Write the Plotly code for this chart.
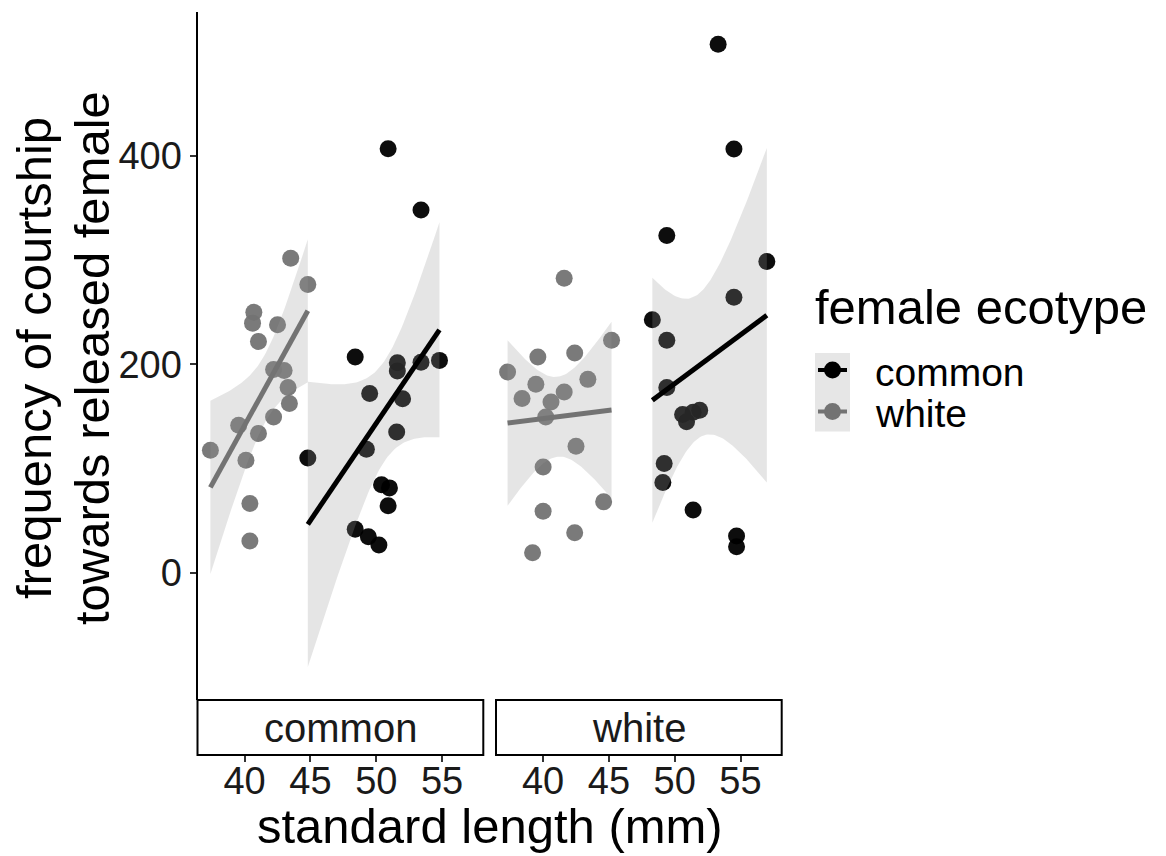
import numpy as np
import plotly.graph_objects as go

# ---------------- data ----------------
# panel "common" (male ecotype facet), female ecotype white (gray)
c_white_x = [43.5, 44.8, 40.7, 40.6, 42.5, 41.05, 42.2, 43.0, 43.3, 43.4, 42.2, 39.55, 41.05, 37.4, 40.1, 40.4, 40.4]
c_white_y = [301.7, 276.6, 250, 239.5, 238, 222, 195, 194, 177.7, 162.4, 149.6, 141.6, 133.7, 117.7, 108, 66.7, 30.6]
# panel "common", female ecotype common (black)
c_common_x = [50.9, 53.4, 48.4, 51.6, 53.4, 54.8, 51.6, 49.5, 52.0, 51.55, 49.25, 44.8, 50.4, 51.0, 50.9, 48.4, 49.4, 50.2]
c_common_y = [406.7, 348, 207, 201.6, 202, 203.8, 193.6, 172, 167, 135.2, 118.7, 110.3, 84.6, 81.6, 64.4, 42, 34.7, 26.8]
# panel "white", female ecotype white (gray)
w_white_x = [41.6, 45.2, 39.6, 42.4, 37.3, 39.45, 43.4, 38.4, 41.6, 40.6, 40.2, 42.5, 40.0, 44.6, 40.0, 42.4, 39.2]
w_white_y = [282.6, 223, 207, 210.8, 192.6, 180.9, 185.6, 167.2, 173.5, 164, 149.6, 121.5, 101.7, 68.2, 59.3, 38.6, 19.4]
# panel "white", female ecotype common (black)
w_common_x = [53.3, 54.5, 49.4, 57.0, 54.5, 48.3, 49.4, 49.4, 50.6, 50.9, 51.4, 51.9, 49.2, 49.1, 51.4, 54.7, 54.7]
w_common_y = [506.9, 406.4, 323.4, 298.6, 264.4, 242.8, 223, 177.7, 152, 145, 154, 156, 105, 86.8, 60.3, 35.4, 25.2]

facets = ["common", "white"]
groups = ["common", "white"]
x_ticks = [40, 45, 50, 55]
y_ticks = [0, 200, 400]

COL = {"common": "#000000", "white": "#737373"}
RIBBON = "rgba(153,153,153,0.25)"
W, H = 1166, 856


def px(x):
    return x / W


def py(y):
    return 1 - y / H


def tq975(df):
    z = 1.959964
    return (z + (z**3 + z) / (4 * df) + (5 * z**5 + 16 * z**3 + 3 * z) / (96 * df**2)
            + (3 * z**7 + 19 * z**5 + 17 * z**3 - 15 * z) / (384 * df**3))


def lm_band(x, y, n=80):
    x = np.asarray(x, float)
    y = np.asarray(y, float)
    N = len(x)
    xm = x.mean()
    sxx = ((x - xm) ** 2).sum()
    b = ((x - xm) * (y - y.mean())).sum() / sxx
    a = y.mean() - b * xm
    s2 = ((y - (a + b * x)) ** 2).sum() / (N - 2)
    xs = np.linspace(x.min(), x.max(), n)
    fit = a + b * xs
    se = np.sqrt(s2 * (1 / N + (xs - xm) ** 2 / sxx))
    t = tq975(N - 2)
    return xs, fit, fit - t * se, fit + t * se


fig = go.Figure()

data = {
    ("common", "white"): (c_white_x, c_white_y),
    ("common", "common"): (c_common_x, c_common_y),
    ("white", "white"): (w_white_x, w_white_y),
    ("white", "common"): (w_common_x, w_common_y),
}

for fi, facet in enumerate(facets):
    xa = "x" if fi == 0 else "x2"
    # points first
    for g in groups:
        xx, yy = data[(facet, g)]
        fig.add_trace(go.Scatter(x=xx, y=yy, mode="markers", xaxis=xa, yaxis="y",
                                 marker=dict(size=17, color=COL[g], opacity=0.95, line=dict(width=0)),
                                 showlegend=False, hoverinfo="skip"))
    for g in groups:
        xx, yy = data[(facet, g)]
        xs, fit, lo, hi = lm_band(xx, yy)
        fig.add_trace(go.Scatter(x=np.concatenate([xs, xs[::-1]]), y=np.concatenate([hi, lo[::-1]]),
                                 mode="lines", fill="toself", fillcolor=RIBBON, line=dict(width=0),
                                 xaxis=xa, yaxis="y", showlegend=False, hoverinfo="skip"))
        fig.add_trace(go.Scatter(x=xs, y=fit, mode="lines", line=dict(color=COL[g], width=5),
                                 xaxis=xa, yaxis="y", showlegend=False, hoverinfo="skip"))

FONT = "Liberation Sans, Arial, Helvetica, sans-serif"
TXT = "#1a1a1a"

panel_x = [(197.5, 483.3), (496.0, 781.7)]
y_top, y_bot = 12, 700
strip_bot = 755
xrange_ = [36.42, 58.13]
yrange_ = [-121.7, 537.7]

xaxis_common = dict(range=xrange_, anchor="free", position=py(strip_bot), showline=False, showgrid=False,
                    zeroline=False, ticks="outside", ticklen=6, tickwidth=1.6, tickcolor="#333333",
                    ticklabelstandoff=-14,
                    tickvals=x_ticks, tickfont=dict(size=38, color=TXT, family=FONT))

fig.update_layout(
    width=W, height=H, margin=dict(l=0, r=0, t=0, b=0),
    paper_bgcolor="white", plot_bgcolor="white",
    font=dict(family=FONT, color=TXT),
    xaxis=dict(domain=[px(panel_x[0][0]), px(panel_x[0][1])], **xaxis_common),
    xaxis2=dict(domain=[px(panel_x[1][0]), px(panel_x[1][1])], **xaxis_common),
    yaxis=dict(domain=[py(y_bot), py(y_top)], range=yrange_, anchor="x", showline=True, linecolor="#000000",
               linewidth=2, showgrid=False, zeroline=False, ticks="outside", ticklen=6, tickwidth=1.6,
               tickcolor="#333333", tickvals=y_ticks, tickfont=dict(size=38, color=TXT, family=FONT)),
    showlegend=False,
)

shapes = []
annotations = []
# strips
for (x0, x1), lab in zip(panel_x, facets):
    shapes.append(dict(type="rect", xref="paper", yref="paper", x0=px(x0), x1=px(x1),
                       y0=py(strip_bot), y1=py(y_bot), line=dict(color="#000000", width=2),
                       fillcolor="white", layer="above"))
    annotations.append(dict(text=lab, xref="paper", yref="paper", x=px((x0 + x1) / 2), y=py(728),
                            showarrow=False, xanchor="center", yanchor="middle",
                            font=dict(size=40, color=TXT, family=FONT)))

# axis titles
annotations.append(dict(text="standard length (mm)", xref="paper", yref="paper", x=px(489.6), y=py(826),
                        showarrow=False, xanchor="center", yanchor="middle",
                        font=dict(size=49, color="#000000", family=FONT)))
annotations.append(dict(text="frequency of courtship", xref="paper", yref="paper", x=px(34), y=py(358),
                        showarrow=False, xanchor="center", yanchor="middle", textangle=-90,
                        font=dict(size=49, color="#000000", family=FONT)))
annotations.append(dict(text="towards released female", xref="paper", yref="paper", x=px(92), y=py(358),
                        showarrow=False, xanchor="center", yanchor="middle", textangle=-90,
                        font=dict(size=49, color="#000000", family=FONT)))

# legend (manual, ggplot style)
annotations.append(dict(text="female ecotype", xref="paper", yref="paper", x=px(813), y=py(307),
                        showarrow=False, xanchor="left", yanchor="middle",
                        font=dict(size=49, color="#000000", family=FONT)))
shapes.append(dict(type="rect", xref="paper", yref="paper", x0=px(815), x1=px(850), y0=py(431.5), y1=py(353),
                   line=dict(width=0), fillcolor="#E6E6E6", layer="above"))
key_y = {"common": 370, "white": 411.5}
for g in groups:
    yk = key_y[g]
    shapes.append(dict(type="line", xref="paper", yref="paper", x0=px(818), x1=px(847), y0=py(yk), y1=py(yk),
                       line=dict(color=COL[g], width=4), layer="above"))
    shapes.append(dict(type="circle", xref="paper", yref="paper", xsizemode="pixel", ysizemode="pixel",
                       xanchor=px(832.5), yanchor=py(yk), x0=-8.5, x1=8.5, y0=-8.5, y1=8.5,
                       fillcolor=COL[g], line=dict(width=0), layer="above"))
    annotations.append(dict(text=g, xref="paper", yref="paper", x=px(873), y=py(yk + 2),
                            showarrow=False, xanchor="left", yanchor="middle",
                            font=dict(size=39, color="#000000", family=FONT)))

fig.update_layout(shapes=shapes, annotations=annotations)
fig.write_html("out.html")
